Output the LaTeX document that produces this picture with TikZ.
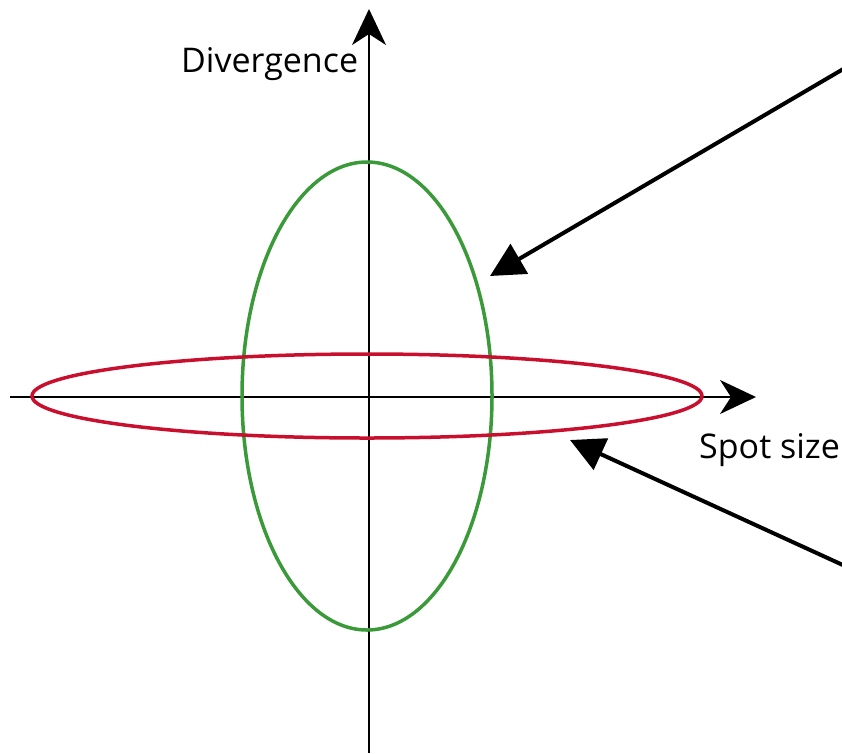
\documentclass[tikz,border=0pt]{standalone}
\usepackage{fontspec}
\setmainfont{Open Sans}
\usetikzlibrary{arrows.meta}
\definecolor{ellgreen}{HTML}{3A9A3A}
\definecolor{ellred}{HTML}{C8102E}
\begin{document}
\begin{tikzpicture}[x=1pt,y=-1pt,
  axis/.style={line width=2pt,-{Stealth[length=36pt,width=34pt,inset=11pt]}},
  pointer/.style={line width=4pt,-{Triangle[length=34pt,width=34pt]}},
  ell/.style={line width=3.5pt},
  lab/.style={font=\fontsize{34}{38}\selectfont,inner sep=0pt}]
\useasboundingbox (0,0) rectangle (842,753);
\coordinate (o) at (369,397);
\coordinate (ybot) at (369,753);
\coordinate (ytop) at (369,9);
\coordinate (xl) at (10,397);
\coordinate (xr) at (756,397);
\draw[axis] (ybot) -- (ytop);
\draw[axis] (xl) -- (xr);
\draw[ell,ellgreen] (367,396) ellipse [x radius=125, y radius=234];
\draw[ell,ellred] (367,396) ellipse [x radius=335, y radius=42];
\node[lab,anchor=base west] (dv) at (181,72) {Divergence};
\node[lab,anchor=base west] (sp) at (699,458) {Spot size};
\coordinate (p1s) at (845,68);
\coordinate (p1e) at (490,276);
\coordinate (p2s) at (845,566);
\coordinate (p2e) at (570,440);
\draw[pointer] (p1s) -- (p1e);
\draw[pointer] (p2s) -- (p2e);
\end{tikzpicture}
\end{document}
